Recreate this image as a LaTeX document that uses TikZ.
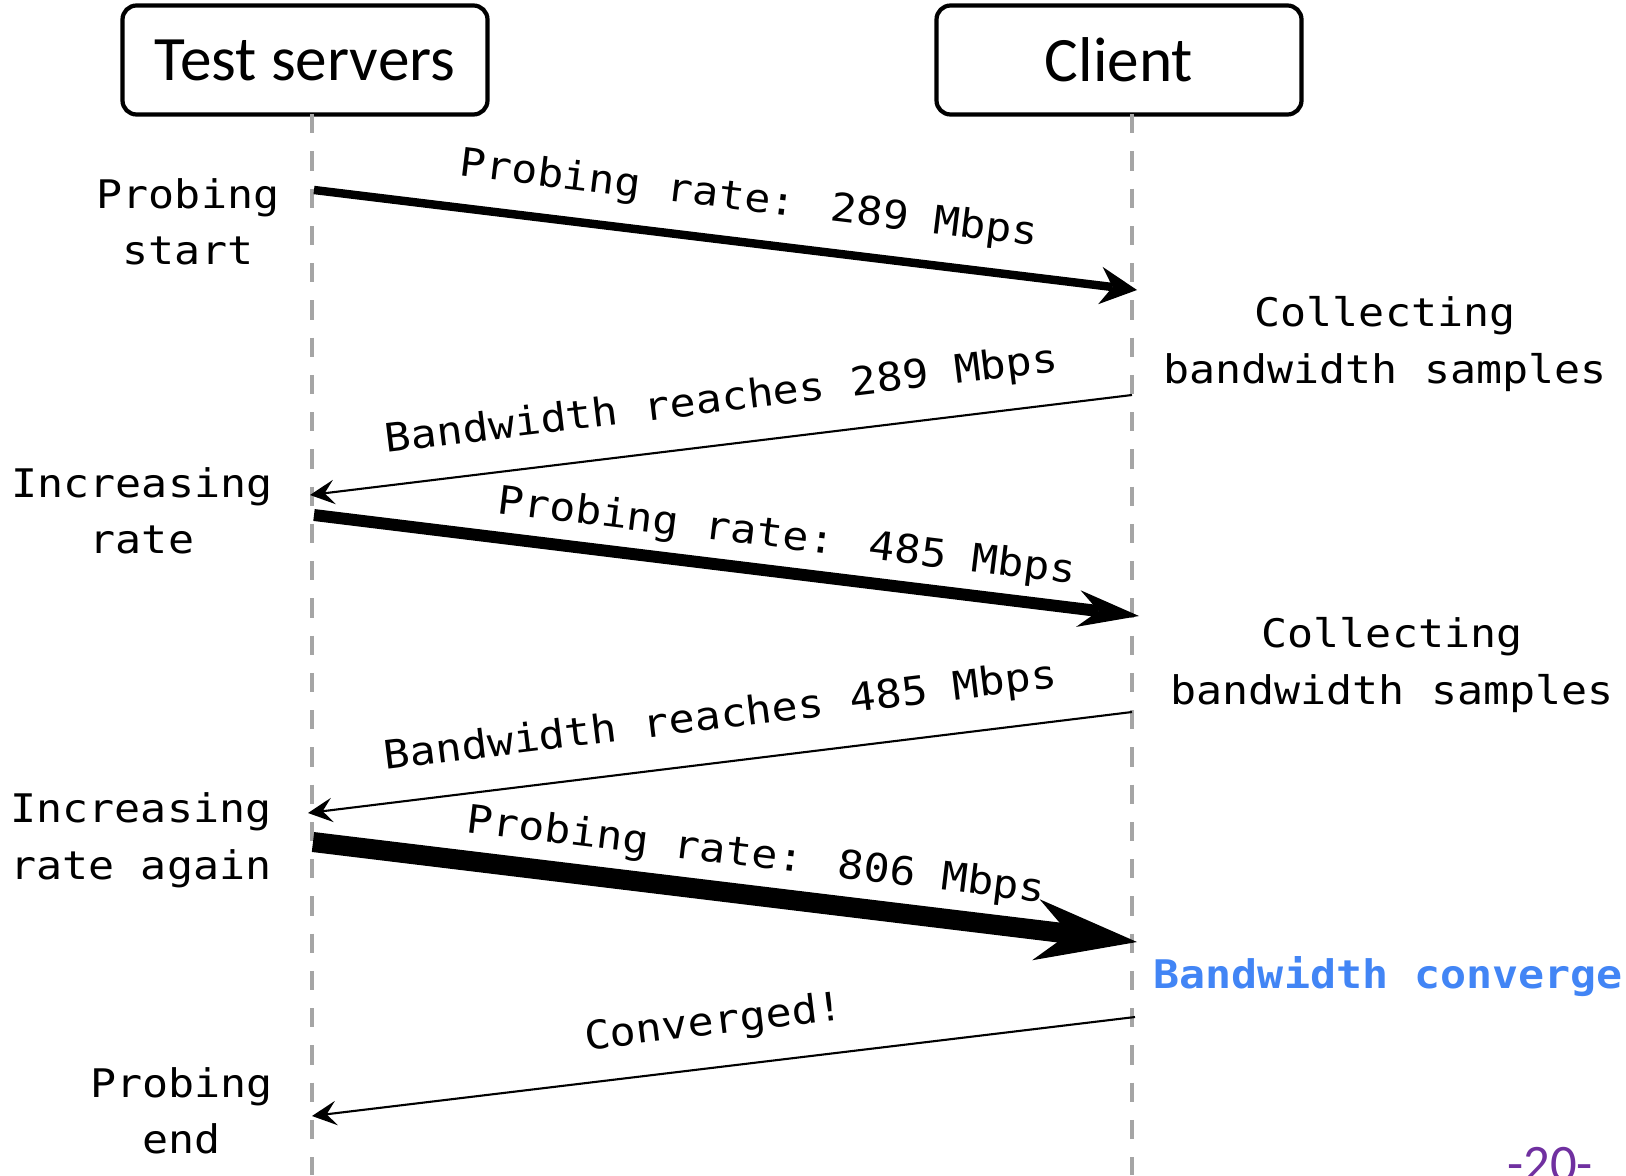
\documentclass[tikz,border=0pt]{standalone}
\usepackage{fontspec}
\usetikzlibrary{arrows.meta}
\setmainfont{Carlito}
\newfontfamily\monofont[FakeStretch=1.1]{DejaVu Sans Mono}
\newcommand\monotext{\monofont\fontsize{11.2}{16.1}\selectfont}
\definecolor{convblue}{RGB}{66,133,245}
\definecolor{pagepurple}{RGB}{112,48,160}
\definecolor{lifegray}{RGB}{165,165,165}

\begin{document}
\begin{tikzpicture}[
    actor/.style={rectangle, draw, line width=1.2pt, rounded corners=4pt, minimum width=3.65cm, minimum height=1.09cm, inner sep=0pt, font=\fontsize{18}{22}\selectfont},
    life/.style={draw=lifegray, line width=1.15pt, dash pattern=on 5.5pt off 5.1pt},
    note/.style={align=center, inner sep=0pt, font=\monotext},
    lbl/.style={sloped, anchor=base, inner sep=0pt, font=\monotext},
    reply/.style={line width=0.6pt, -{Stealth[length=7pt, width=7pt, inset=2.8pt, line width=0pt]}},
    probeA/.style={line width=2.4pt, -{Stealth[length=10.5pt, width=10.7pt, inset=3.5pt, line width=0pt]}},
    probeB/.style={line width=3.4pt, -{Stealth[length=17.4pt, width=10.5pt, inset=5.8pt, line width=0pt]}},
    probeC/.style={line width=5.7pt, -{Stealth[length=29pt, width=17.5pt, inset=9.5pt, line width=0pt]}}
]
\useasboundingbox (0,0) rectangle (16.26,-11.75);

\node[actor] (ts) at (3.05,-0.60) {Test servers};
\node[actor] (cl) at (11.19,-0.60) {Client};

\coordinate (tstop) at (3.12,-1.14);
\coordinate (tsbot) at (3.12,-11.75);
\coordinate (cltop) at (11.32,-1.14);
\coordinate (clbot) at (11.32,-11.75);
\draw[life] (tstop) -- (tsbot);
\draw[life] (cltop) -- (clbot);

\coordinate (p1s) at (3.14,-1.90);
\coordinate (p1e) at (11.37,-2.90);
\coordinate (r1s) at (11.32,-3.95);
\coordinate (r1e) at (3.10,-4.95);
\coordinate (p2s) at (3.14,-5.15);
\coordinate (p2e) at (11.39,-6.16);
\coordinate (r2s) at (11.32,-7.12);
\coordinate (r2e) at (3.08,-8.13);
\coordinate (p3s) at (3.13,-8.42);
\coordinate (p3e) at (11.37,-9.42);
\coordinate (r3s) at (11.35,-10.17);
\coordinate (r3e) at (3.12,-11.16);

\draw[probeA] (p1s) -- (p1e) node[lbl, pos=0.522, yshift=9pt] {Probing rate: 289 Mbps};
\draw[reply] (r1s) -- (r1e) node[lbl, pos=0.4925, yshift=9.3pt] {Bandwidth reaches 289 Mbps};
\draw[probeB] (p2s) -- (p2e) node[lbl, pos=0.568, yshift=6.8pt] {Probing rate: 485 Mbps};
\draw[reply] (r2s) -- (r2e) node[lbl, pos=0.4925, yshift=9.5pt] {Bandwidth reaches 485 Mbps};
\draw[probeC] (p3s) -- (p3e) node[lbl, pos=0.532, yshift=8pt] {Probing rate: 806 Mbps};
\draw[reply] (r3s) -- (r3e) node[lbl, pos=0.505, yshift=9.3pt] {Converged!};

\node[note] (start) at (1.88,-2.22) {Probing\\start};
\node[note] (inc) at (1.42,-5.11) {Increasing\\rate};
\node[note] (incagain) at (1.41,-8.40) {Increasing\\rate again};
\node[note] (stop) at (1.815,-11.11) {Probing\\end};
\node[note] (collect1) at (13.85,-3.44) {Collecting\\bandwidth samples};
\node[note] (collect2) at (13.92,-6.65) {Collecting\\bandwidth samples};
\node[note, anchor=base west, text=convblue, font=\monotext\bfseries] (conv) at (11.53,-9.88) {Bandwidth converge};
\node[anchor=base, text=pagepurple, font=\fontsize{15}{18}\selectfont] (page) at (15.50,-11.81) {-20-};
\end{tikzpicture}
\end{document}
